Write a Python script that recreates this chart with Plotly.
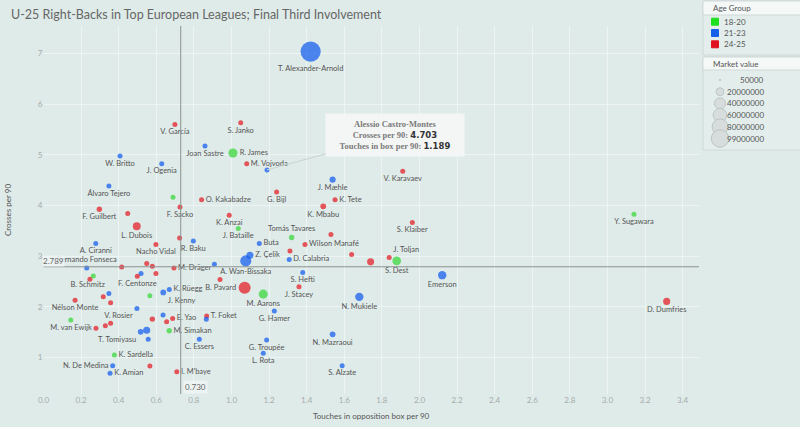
import plotly.graph_objects as go

W, H = 800, 427

# ---------------- data ----------------
players = [
    "T. Alexander-Arnold", "V. García", "S. Janko", "Joan Sastre", "R. James",
    "W. Britto", "J. Ogenia", "M. Vojvoda", "Alessio Castro-Montes", "V. Karavaev",
    "J. Mæhle", "Álvaro Tejero", "G. Bijl", "", "K. Tete",
    "O. Kakabadze", "K. Mbabu", "F. Sacko", "F. Guilbert", "",
    "Y. Sugawara", "K. Anzai", "S. Klaiber", "L. Dubois", "J. Bataille",
    "", "Tomás Tavares", "", "R. Baku", "Buta",
    "A. Ciranni", "Nacho Vidal", "Wilson Manafé", "", "",
    "Z. Çelik", "A. Wan-Bissaka", "D. Calabria", "J. Toljan", "S. Dest",
    "", "", "Fernando Fonseca", "", "",
    "", "M. Dräger", "Emerson", "S. Hefti", "",
    "F. Centonze", "", "", "", "",
    "B. Pavard", "J. Stacey", "M. Aarons", "K. Rüegg", "J. Kenny",
    "B. Schmitz", "", "", "", "Nélson Monte",
    "N. Mukiele", "D. Dumfries", "V. Rosier", "G. Hamer", "",
    "T. Foket", "", "E. Yao", "", "",
    "", "", "", "M. van Ewijk", "T. Tomiyasu",
    "", "M. Simakan", "N. Mazraoui", "", "C. Essers",
    "G. Troupée", "L. Rota", "K. Sardella", "N. De Medina", "",
    "S. Alzate", "K. Amian", "I. M'baye",
]
touches_in_box = [
    1.421, 0.699, 1.049, 0.859, 1.008,
    0.407, 0.629, 1.081, 1.189, 1.911,
    1.538, 0.348, 1.240, 0.689, 1.551,
    0.841, 1.488, 0.726, 0.297, 0.448,
    3.141, 0.988, 1.962, 0.496, 1.036,
    1.529, 1.320, 0.724, 0.797, 1.148,
    0.278, 0.598, 1.391, 1.311, 1.639,
    1.098, 1.076, 1.307, 1.839, 1.879,
    1.740, 0.909, 0.230, 0.416, 0.549,
    0.579, 0.694, 2.121, 1.379, 0.519,
    0.499, 0.598, 0.247, 0.265, 0.939,
    1.070, 1.359, 1.169, 0.669, 0.637,
    0.348, 0.566, 0.318, 0.357, 0.168,
    1.680, 3.315, 0.497, 1.228, 0.636,
    0.868, 0.866, 0.687, 0.655, 0.579,
    0.145, 0.357, 0.329, 0.279, 0.517,
    0.549, 0.669, 1.538, 0.557, 0.829,
    1.187, 1.169, 0.377, 0.368, 0.566,
    1.589, 0.354, 0.709,
]
crosses = [
    7.041, 5.602, 5.635, 5.174, 5.036,
    4.976, 4.826, 4.826, 4.703, 4.675,
    4.511, 4.385, 4.266, 4.162, 4.116,
    4.116, 3.984, 3.970, 3.925, 3.840,
    3.826, 3.807, 3.663, 3.590, 3.544,
    3.426, 3.367, 3.359, 3.300, 3.249,
    3.249, 3.229, 3.229, 3.103, 3.032,
    3.018, 2.905, 2.933, 2.972, 2.905,
    2.886, 2.840, 2.767, 2.787, 2.854,
    2.801, 2.767, 2.623, 2.677, 2.657,
    2.604, 2.657, 2.544, 2.609, 2.538,
    2.373, 2.393, 2.249, 2.341, 2.282,
    2.262, 2.215, 2.195, 2.077, 2.130,
    2.195, 2.105, 1.966, 1.913, 1.834,
    1.815, 1.750, 1.769, 1.702, 1.755,
    1.736, 1.671, 1.623, 1.572, 1.505,
    1.533, 1.525, 1.454, 1.355, 1.355,
    1.341, 1.079, 1.045, 0.834, 0.828,
    0.834, 0.684, 0.716,
]
age_group = [
    "21-23", "24-25", "24-25", "21-23", "18-20",
    "21-23", "21-23", "24-25", "21-23", "24-25",
    "21-23", "21-23", "24-25", "18-20", "24-25",
    "24-25", "24-25", "24-25", "24-25", "24-25",
    "18-20", "24-25", "24-25", "24-25", "18-20",
    "24-25", "18-20", "24-25", "21-23", "21-23",
    "21-23", "24-25", "24-25", "24-25", "24-25",
    "21-23", "21-23", "21-23", "24-25", "18-20",
    "24-25", "21-23", "21-23", "24-25", "24-25",
    "24-25", "24-25", "21-23", "21-23", "21-23",
    "24-25", "24-25", "24-25", "18-20", "24-25",
    "24-25", "24-25", "18-20", "21-23", "21-23",
    "21-23", "18-20", "24-25", "24-25", "24-25",
    "21-23", "24-25", "21-23", "21-23", "21-23",
    "24-25", "21-23", "24-25", "24-25", "24-25",
    "18-20", "24-25", "24-25", "24-25", "21-23",
    "21-23", "18-20", "21-23", "21-23", "21-23",
    "21-23", "21-23", "18-20", "21-23", "24-25",
    "21-23", "21-23", "24-25",
]
market_value = [
    99000000, 1000000, 1200000, 1000000, 20000000,
    900000, 900000, 1500000, 1000000, 4000000,
    9000000, 3000000, 900000, 300000, 3500000,
    900000, 8000000, 1000000, 7000000, 600000,
    500000, 800000, 1000000, 15000000, 600000,
    3500000, 7000000, 600000, 4500000, 4000000,
    900000, 1500000, 3000000, 600000, 1000000,
    12000000, 30000000, 5000000, 3000000, 18000000,
    12000000, 600000, 600000, 600000, 600000,
    1800000, 600000, 17000000, 900000, 900000,
    6000000, 600000, 600000, 300000, 300000,
    35000000, 3000000, 20000000, 3500000, 8000000,
    3500000, 300000, 600000, 600000, 600000,
    17000000, 12000000, 3500000, 900000, 3500000,
    3500000, 600000, 700000, 600000, 7000000,
    300000, 900000, 3500000, 3500000, 8000000,
    12000000, 7000000, 8000000, 600000, 700000,
    700000, 700000, 600000, 700000, 700000,
    700000, 5000000, 800000,
]

age_groups = ["18-20", "21-23", "24-25"]
size_legend_values = [50000, 20000000, 40000000, 60000000, 80000000, 99000000]
x_ticks = [0.0, 0.2, 0.4, 0.6, 0.8, 1.0, 1.2, 1.4, 1.6, 1.8, 2.0, 2.2, 2.4, 2.6, 2.8, 3.0, 3.2, 3.4]
y_ticks = [1, 2, 3, 4, 5, 6, 7]
avg_touches = 0.730
avg_crosses = 2.789
tooltip_player = "Alessio Castro-Montes"

# ---------------- style ----------------
AGE_COLORS = {"18-20": "#2fd52f", "21-23": "#0b57ee", "24-25": "#e2141b"}
LEGEND_COLORS = {"18-20": "#1fe01f", "21-23": "#1560e8", "24-25": "#e01020"}
BG = "#dfebe9"
FONT = "Lato"
LABEL_POS = {
    "R. James": "middle right", "M. Vojvoda": "middle right", "O. Kakabadze": "middle right",
    "K. Tete": "middle right", "Wilson Manafé": "middle right", "Buta": "middle right",
    "D. Calabria": "middle right", "Z. Çelik": "middle right", "M. Dräger": "middle right",
    "K. Rüegg": "middle right", "E. Yao": "middle right", "T. Foket": "middle right",
    "M. Simakan": "middle right", "K. Sardella": "middle right", "K. Amian": "middle right",
    "I. M'baye": "middle right", "B. Pavard": "middle left", "M. van Ewijk": "middle left",
    "N. De Medina": "middle left", "Tomás Tavares": "top center", "Fernando Fonseca": "top center",
    "J. Toljan": "top right", "B. Schmitz": "top left", "V. Rosier": "bottom left",
    "T. Tomiyasu": "bottom left", "J. Kenny": "bottom right",
}

PX_X = lambda p: p / W
PX_Y = lambda p: 1 - p / H

max_px = 17.5
sizeref = 3.0 * max(market_value) / 2.0 / max_px ** 2

fig = go.Figure()

labels = [("" if n == tooltip_player else n) for n in players]
fig.add_trace(go.Scatter(
    x=touches_in_box, y=crosses, mode="markers+text",
    text=labels,
    textposition=[LABEL_POS.get(n, "bottom center") for n in players],
    textfont=dict(family=FONT, size=7.5, color="#555"),
    marker=dict(color=[AGE_COLORS[a] for a in age_group], size=market_value,
                sizemode="area", sizeref=sizeref, sizemin=2.5, line=dict(width=0)),
    cliponaxis=False, hoverinfo="text", hovertext=players, showlegend=False,
))

x0d, x1d = 43.5, 699
y0d, y1d = 394, 26

fig.update_layout(
    width=W, height=H, margin=dict(l=0, r=0, t=0, b=0),
    paper_bgcolor=BG, plot_bgcolor=BG, showlegend=False,
    xaxis=dict(domain=[PX_X(x0d), PX_X(x1d)], range=[0, 3.487], tickvals=x_ticks,
               ticktext=[f"{v:.1f}" for v in x_ticks], showgrid=True, gridcolor="#edf4f3",
               gridwidth=1, zeroline=False, showline=False, ticks="",
               tickfont=dict(family=FONT, size=8, color="#a5acab"), automargin=False),
    yaxis=dict(domain=[PX_Y(y0d), PX_Y(y1d)], range=[0.275, 7.547], tickvals=y_ticks,
               showgrid=True, gridcolor="#edf4f3", gridwidth=1, zeroline=False,
               showline=False, ticks="", tickfont=dict(family=FONT, size=8, color="#a5acab"),
               automargin=False),
)

shapes = []
annotations = []

# reference lines
shapes.append(dict(type="line", xref="x", yref="y domain", x0=avg_touches, x1=avg_touches,
                   y0=0, y1=1, line=dict(color="#8c9291", width=1)))
shapes.append(dict(type="line", xref="x domain", yref="y", x0=0, x1=1,
                   y0=avg_crosses, y1=avg_crosses, line=dict(color="#8c9291", width=1)))
annotations.append(dict(x=avg_touches, y=PX_Y(387), xref="x", yref="paper", xanchor="left",
                        yanchor="middle", xshift=2, text=f"{avg_touches:.3f}", showarrow=False,
                        bgcolor="rgba(238,244,243,0.9)",
                        font=dict(family=FONT, size=8, color="#666")))
annotations.append(dict(x=PX_X(42), y=avg_crosses, xref="paper", yref="y", xanchor="left",
                        yanchor="bottom", yshift=0, text=f"{avg_crosses:.3f}", showarrow=False,
                        bgcolor="rgba(238,244,243,0.85)", borderpad=0,
                        font=dict(family=FONT, size=8, color="#666")))

# titles
annotations.append(dict(x=PX_X(9), y=PX_Y(14), xref="paper", yref="paper", xanchor="left",
                        yanchor="middle", showarrow=False,
                        text="U-25 Right-Backs in Top European Leagues; Final Third Involvement",
                        font=dict(family=FONT, size=12.5, color="#666")))
annotations.append(dict(x=PX_X((x0d + x1d) / 2), y=PX_Y(416), xref="paper", yref="paper",
                        xanchor="center", yanchor="middle", showarrow=False,
                        text="Touches in opposition box per 90",
                        font=dict(family=FONT, size=8, color="#555")))
annotations.append(dict(x=PX_X(8), y=PX_Y((y0d + y1d) / 2), xref="paper", yref="paper",
                        xanchor="center", yanchor="middle", showarrow=False, textangle=-90,
                        text="Crosses per 90", font=dict(family=FONT, size=8, color="#555")))

# tooltip
ti = players.index(tooltip_player)
tx, ty = touches_in_box[ti], crosses[ti]
serif = "Liberation Serif"
tip_text = (
    f"<b>{tooltip_player}</b><br>"
    f"<b>Crosses per 90: </b><span style='font-family:DejaVu Sans;color:#333'><b>{ty:.3f}</b></span><br>"
    f"<b>Touches in box per 90: </b><span style='font-family:DejaVu Sans;color:#333'><b>{tx:.3f}</b></span>"
)
annotations.append(dict(x=tx, y=ty, xref="x", yref="y", text=tip_text, showarrow=True,
                        arrowhead=0, arrowwidth=1, arrowcolor="#c9d3d1", ax=128, ay=-35,
                        bgcolor="rgba(244,247,247,0.95)", borderpad=3, width=132, height=36,
                        align="center", font=dict(family=serif, size=8.5, color="#7a7a7a")))

# legend panel
def rect(x0, y0, x1, y1, fill, line="#cfd9d7"):
    shapes.append(dict(type="rect", xref="paper", yref="paper", x0=PX_X(x0), x1=PX_X(x1),
                       y0=PX_Y(y1), y1=PX_Y(y0), fillcolor=fill,
                       line=dict(color=line, width=1), layer="above"))

def text(x, y, s, anchor="left", color="#555", size=8):
    annotations.append(dict(x=PX_X(x), y=PX_Y(y), xref="paper", yref="paper", xanchor=anchor,
                            yanchor="middle", showarrow=False, text=s,
                            font=dict(family=FONT, size=size, color=color)))

rect(703, 1, 801, 55, "#e3eeec")
rect(703, 1, 801, 15, "#f4f8f7")
text(711, 8, "Age Group")
for i, g in enumerate(age_groups):
    cy = 21.7 + i * 11.3
    rect(711.5, cy - 3.5, 718.5, cy + 3.5, LEGEND_COLORS[g], line=LEGEND_COLORS[g])
    text(722, cy, g)

rect(703, 57, 801, 150, "#e3eeec")
rect(703, 57, 801, 70, "#f4f8f7")
text(711, 64, "Market value")
for i, v in enumerate(size_legend_values):
    cy = 80 + i * 11.7
    d = max(1.5, max_px * (v / max(size_legend_values)) ** 0.5)
    shapes.append(dict(type="circle", xref="paper", yref="paper",
                       x0=PX_X(720 - d / 2), x1=PX_X(720 + d / 2),
                       y0=PX_Y(cy + d / 2), y1=PX_Y(cy - d / 2),
                       fillcolor="#d6dddc", line=dict(color="#bcc6c4", width=1), layer="above"))
    text(766, cy, str(v), anchor="right")

fig.update_layout(shapes=shapes, annotations=annotations)
fig.write_html("out.html", config={"displayModeBar": False},
               post_script="document.body.style.margin='0';")
